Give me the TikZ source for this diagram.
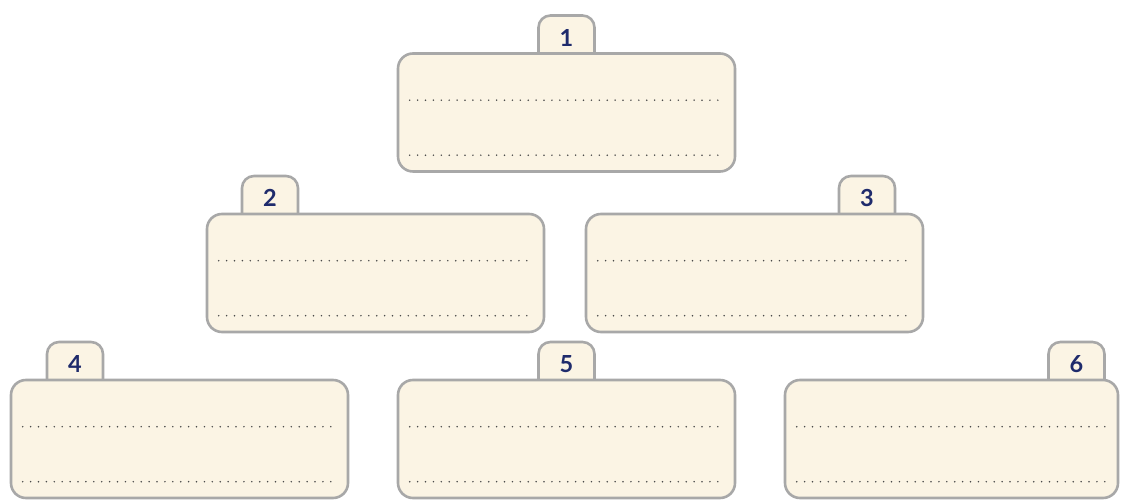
\documentclass[tikz,border=0pt]{standalone}
\usepackage{fontspec}
\usepackage{tikz}
\usetikzlibrary{positioning,backgrounds,calc}
\newfontfamily\tabfont{Lato}
\definecolor{panelFill}{HTML}{FBF4E4}
\definecolor{panelLine}{HTML}{A8A8A8}
\definecolor{tabInk}{HTML}{1F2B6C}
\definecolor{dotInk}{HTML}{4A4A4A}
\tikzset{
  panel/.style={draw=panelLine,fill=panelFill,line width=2.6pt,rounded corners=15pt,
    minimum width=337pt,minimum height=118pt,inner sep=0pt},
  tabbox/.style={draw=panelLine,fill=panelFill,line width=2.6pt,rounded corners=12pt,
    minimum width=56pt,anchor=north,inner xsep=0pt,inner ysep=4pt,
    text height=27pt,text depth=21pt,text=tabInk,
    font=\tabfont\bfseries\fontsize{23.5}{26}\selectfont},
  writeline/.style={draw=dotInk,line width=1.7pt,line cap=round,
    dash pattern=on 0pt off 7.9pt},
}

\begin{document}
\begin{tikzpicture}[x=1pt,y=1pt]
\useasboundingbox (0,0) rectangle (1121,500);
\node[panel] (b1) at (566.5,387.5) {};
\node[panel] (b2) at (375.5,227) {};
\node[panel] (b3) at (754.5,227) {};
\node[panel] (b4) at (179.5,61) {};
\node[panel] (b5) at (566.5,61) {};
\node[panel,minimum width=333pt] (b6) at (951.5,61) {};
\begin{scope}[on background layer]
\node[tabbox] (t1) at ($(b1.north)+(0,38)$) {1};
\node[tabbox] (t2) at ($(b2.north)+(-105.5,38)$) {2};
\node[tabbox] (t3) at ($(b3.north)+(112.5,38)$) {3};
\node[tabbox] (t4) at ($(b4.north)+(-104.5,38)$) {4};
\node[tabbox] (t5) at ($(b5.north)+(0,38)$) {5};
\node[tabbox] (t6) at ($(b6.north)+(125,38)$) {6};
\end{scope}
% dotted writing lines
\foreach \b in {b1,b2,b3,b4,b5,b6}{
  \draw[writeline] ($(\b.north west)+(13,-48)$) -- ($(\b.north east)+(-13,-48)$);
  \draw[writeline] ($(\b.north west)+(13,-103)$) -- ($(\b.north east)+(-13,-103)$);
}
\end{tikzpicture}
\end{document}
